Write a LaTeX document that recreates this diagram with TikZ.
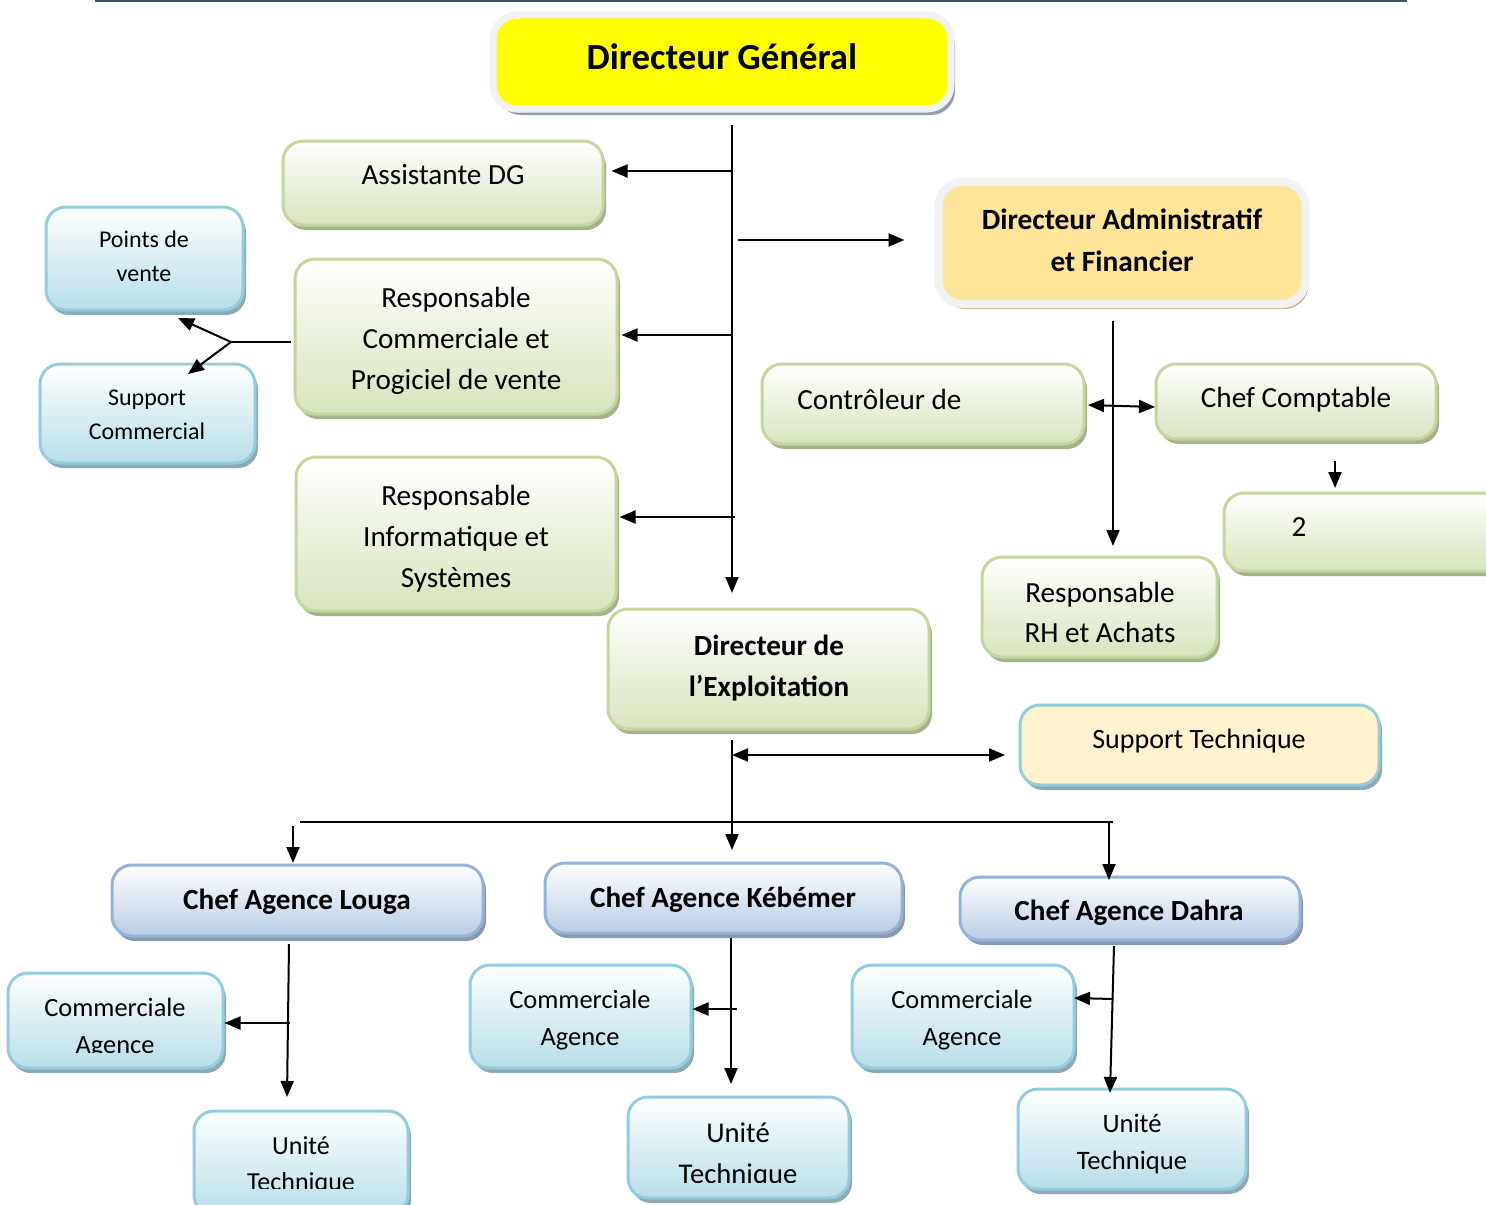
\documentclass[tikz,border=0pt]{standalone}
\usepackage{fontspec}
\setmainfont{Carlito}
\usetikzlibrary{arrows.meta,shadows}
\definecolor{gfill}{HTML}{D7E4BD}
\definecolor{gdraw}{HTML}{C3D69B}
\definecolor{gshad}{HTML}{A4B38C}
\definecolor{bfill}{HTML}{B7DEE8}
\definecolor{bdraw}{HTML}{93CDDD}
\definecolor{bshad}{HTML}{8EA9B2}
\definecolor{lfill}{HTML}{B9CDE5}
\definecolor{ldraw}{HTML}{95B3D7}
\definecolor{lshad}{HTML}{8A99AE}
\definecolor{framec}{HTML}{F2F2F2}
\definecolor{dgshad}{HTML}{8E9CAE}
\definecolor{dgfill}{HTML}{FFFF00}
\definecolor{dafill}{HTML}{FFE599}
\definecolor{dafshad}{HTML}{C8B88F}
\definecolor{stfill}{HTML}{FFF2CC}
\definecolor{topline}{HTML}{3B5170}
\newcommand{\fs}[2]{\fontsize{#1}{#2}\selectfont}
\begin{document}
\begin{tikzpicture}[x=0.5pt,y=-0.5pt,
 box/.style={rectangle, rounded corners=10pt, line width=1.5pt, inner sep=0pt},
 gbox/.style={box, top color=white, bottom color=gfill, draw=gdraw,
   drop shadow={shadow xshift=1.5pt, shadow yshift=-2.5pt, fill=gshad, opacity=1}},
 bbox/.style={box, top color=white, bottom color=bfill, draw=bdraw,
   drop shadow={shadow xshift=1.5pt, shadow yshift=-2.5pt, fill=bshad, opacity=1}},
 lbox/.style={box, top color=white, bottom color=lfill, draw=ldraw,
   drop shadow={shadow xshift=1.5pt, shadow yshift=-2.5pt, fill=lshad, opacity=1}},
 txt/.style={align=center, inner sep=0pt},
 arr/.style={-{Triangle[length=8pt,width=6.5pt]}, line width=1pt},
 darr/.style={{Triangle[length=8pt,width=6.5pt]}-{Triangle[length=8pt,width=6.5pt]}, line width=1pt},
 ln/.style={line width=1pt}
]
\useasboundingbox (0,0) rectangle (1486,1204);
\fill[white] (0,0) rectangle (1486,1204);
\draw[topline, line width=1.5pt] (95,1) -- (1407,1);

% ---------- boxes ----------
\node[box, fill=dgfill, draw=framec, line width=3.5pt, rounded corners=12pt,
  drop shadow={shadow xshift=2pt, shadow yshift=-3pt, fill=dgshad, opacity=1},
  minimum width=229pt, minimum height=47pt] (dg) at (722,62) {};
\node[txt, font=\fs{18.4}{22}\bfseries] (dgT) at (722,57) {Directeur Général};

\node[gbox, minimum width=160pt, minimum height=42pt] (asst) at (443,183) {};
\node[txt, font=\fs{14.6}{20.5}] (asstT) at (443,175) {Assistante DG};

\node[gbox, minimum width=161pt, minimum height=77.5pt] (rc) at (456,336.5) {};
\node[txt, font=\fs{14.6}{20.5}] (rcT) at (456,341) {Responsable\\Commerciale et\\Progiciel de vente};

\node[gbox, minimum width=160pt, minimum height=77pt] (ri) at (456,534) {};
\node[txt, font=\fs{14.6}{20.5}] (riT) at (456,538.5) {Responsable\\Informatique et\\Systèmes};

\node[bbox, minimum width=98.5pt, minimum height=51.5pt] (pdv) at (144.5,258.5) {};
\node[txt, font=\fs{12}{17}] (pdvT) at (144,256) {Points de\\vente};

\node[bbox, minimum width=107.5pt, minimum height=49.5pt] (sc) at (147.5,413.5) {};
\node[txt, font=\fs{12}{17}] (scT) at (147,415) {Support\\Commercial};

\node[box, fill=dafill, draw=framec, line width=4pt, rounded corners=12pt,
  drop shadow={shadow xshift=1.5pt, shadow yshift=-2.5pt, fill=dafshad, opacity=1},
  minimum width=183.5pt, minimum height=61pt] (daf) at (1122,243) {};
\node[txt, font=\fs{14.7}{21}\bfseries] (dafT) at (1122,240) {Directeur Administratif\\et Financier};

\node[gbox, minimum width=161pt, minimum height=40pt] (ctrl) at (923,404) {};
\node[txt, font=\fs{14.6}{20.5}, anchor=west] (ctrlT) at (797,399) {Contrôleur de};

\node[gbox, minimum width=140pt, minimum height=37.5pt] (cc) at (1296,401.5) {};
\node[txt, font=\fs{14.6}{20.5}] (ccT) at (1296,400) {Chef Comptable};

\node[gbox, minimum width=148pt, minimum height=39pt] (c2) at (1372,532) {};
\node[txt, font=\fs{14.6}{20.5}] (c2T) at (1299,527) {2};

\node[gbox, minimum width=117.5pt, minimum height=50pt] (rh) at (1099.5,607) {};
\node[txt, font=\fs{14.6}{20}] (rhT) at (1100,612) {Responsable\\RH et Achats};

\node[gbox, minimum width=160.5pt, minimum height=60pt] (dexp) at (768.5,669) {};
\node[txt, font=\fs{14.6}{20.5}\bfseries] (dexpT) at (769,668) {Directeur de\\l’Exploitation};

\node[box, fill=stfill, draw=bdraw,
  drop shadow={shadow xshift=1.5pt, shadow yshift=-2.5pt, fill=bshad, opacity=1},
  minimum width=179.5pt, minimum height=40pt] (st) at (1199.5,745) {};
\node[txt, font=\fs{14}{20}] (stT) at (1199,741) {Support Technique};

\node[lbox, minimum width=185.5pt, minimum height=35.5pt] (cal) at (297.5,900.5) {};
\node[txt, font=\fs{14.6}{20}\bfseries] (calT) at (297,902) {Chef Agence Louga};

\node[lbox, minimum width=178.5pt, minimum height=35pt] (cak) at (723.5,898) {};
\node[txt, font=\fs{14.6}{20}\bfseries] (cakT) at (723,900) {Chef Agence Kébémer};

\node[lbox, minimum width=170pt, minimum height=31.5pt] (cad) at (1130,908.5) {};
\node[txt, font=\fs{14.6}{20}\bfseries] (cadT) at (1129,913) {Chef Agence Dahra};

\node[bbox, minimum width=107.5pt, minimum height=47.5pt] (cml) at (115.5,1020.5) {};
\node[bbox, minimum width=107pt, minimum height=52pt] (utl) at (301,1163) {};
\node[bbox, minimum width=110.5pt, minimum height=51.5pt] (cmk) at (580.5,1016.5) {};
\node[bbox, minimum width=110.5pt, minimum height=50.5pt] (utk) at (738.5,1147.5) {};
\node[bbox, minimum width=111pt, minimum height=51.5pt] (cmd) at (963,1016.5) {};
\node[bbox, minimum width=114pt, minimum height=50pt] (utd) at (1132,1139) {};

\begin{scope}
\clip (0,0) rectangle (400,1052);
\node[txt, font=\fs{13.2}{18.5}] (cmlT) at (115,1028) {Commerciale\\Agence};
\end{scope}
\begin{scope}
\clip (0,0) rectangle (600,1188);
\node[txt, font=\fs{13}{18}] (utlT) at (301,1165.5) {Unité\\Technique};
\end{scope}
\node[txt, font=\fs{13.2}{18.5}] (cmkT) at (580,1020) {Commerciale\\Agence};
\begin{scope}
\clip (600,0) rectangle (900,1182);
\node[txt, font=\fs{14.3}{20.5}] (utkT) at (738,1155) {Unité\\Technique};
\end{scope}
\node[txt, font=\fs{13.2}{18.5}] (cmdT) at (962,1020) {Commerciale\\Agence};
\node[txt, font=\fs{13.3}{18.5}] (utdT) at (1132,1144) {Unité\\Technique};

% ---------- connectors ----------
\coordinate (tTop) at (732,125);
\coordinate (tBot) at (732,593);
\draw[arr] (tTop) -- (tBot);
\coordinate (jA) at (732,171);
\draw[arr, shorten >=3.5pt] (jA) -- (jA -| asst.east);
\coordinate (jD) at (738,240);
\draw[arr, shorten >=15pt] (jD) -- (jD -| daf.west);
\coordinate (jC) at (732,335);
\draw[arr, shorten >=1.5pt] (jC) -- (jC -| rc.east);
\coordinate (jI) at (735,517);
\draw[arr, shorten >=1pt] (jI) -- (jI -| ri.east);

\coordinate (bS) at (291,342);
\coordinate (jB) at (231,342);
\coordinate (pTip) at (178,318);
\coordinate (sTip) at (188,374);
\draw[ln] (bS) -- (jB);
\draw[arr] (jB) -- (pTip);
\draw[arr] (jB) -- (sTip);

\coordinate (v0) at (1113,321);
\coordinate (v1) at (1113,546);
\draw[arr] (v0) -- (v1);
\coordinate (h0) at (1088,405);
\coordinate (h1) at (1155,407);
\draw[darr] (h0) -- (h1);
\coordinate (s0) at (1335,461);
\coordinate (s1) at (1335,488);
\draw[arr] (s0) -- (s1);

\coordinate (e0) at (732,740);
\coordinate (e1) at (732,850);
\draw[arr] (e0) -- (e1);
\coordinate (e2) at (732,755);
\coordinate (e3) at (1005,755);
\draw[darr] (e2) -- (e3);

\coordinate (hb0) at (300,822);
\coordinate (hb1) at (1113,822);
\draw[ln] (hb0) -- (hb1);
\coordinate (lo0) at (293,826);
\coordinate (lo1) at (293,863);
\draw[arr] (lo0) -- (lo1);
\coordinate (da0) at (1109,822);
\coordinate (da1) at (1109,880);
\draw[arr] (da0) -- (da1);

\coordinate (l0) at (289,944);
\coordinate (l1) at (287,1097);
\draw[arr] (l0) -- (l1);
\coordinate (l2) at (290,1023);
\draw[arr] (l2) -- (l2 -| cml.east);

\coordinate (k0) at (731,938);
\coordinate (k1) at (731,1084);
\draw[arr] (k0) -- (k1);
\coordinate (k2) at (737,1009);
\draw[arr] (k2) -- (k2 -| cmk.east);

\coordinate (d0) at (1114,946);
\coordinate (d1) at (1110,1093);
\draw[arr] (d0) -- (d1);
\coordinate (d2) at (1113,999);
\coordinate (d3) at (1074,998);
\draw[arr] (d2) -- (d3);
\end{tikzpicture}
\end{document}
